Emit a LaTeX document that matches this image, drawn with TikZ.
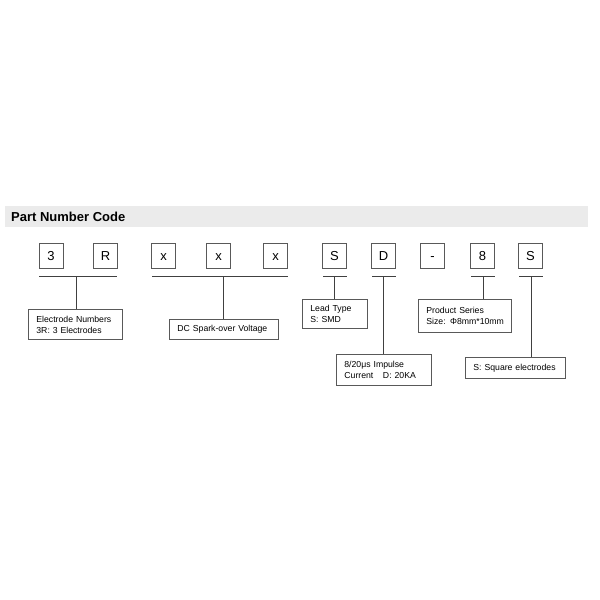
\documentclass[tikz,border=0pt]{standalone}
\usepackage{fontspec}
\setmainfont{Liberation Sans}
\begin{document}
\begin{tikzpicture}[x=1pt,y=-1pt,
  codebox/.style={draw=gray!70!black, line width=0.8pt, minimum width=24pt, minimum height=25pt, inner sep=0pt, text height=9.3pt, text depth=0pt, font=\fontsize{13}{15}\selectfont},
  labelbox/.style={draw=gray!70!black, line width=0.8pt, anchor=north west, align=left, inner xsep=8pt, inner ysep=0pt, font=\fontsize{8.7}{11}\selectfont},
  bar/.style={draw=black!75, line width=0.9pt}]
\useasboundingbox (0,0) rectangle (600,600);
% header band
\fill[black!8] (5,206) rectangle (588,227);
\node [right, inner sep=0pt, font=\bfseries\fontsize{13}{15}\selectfont] (title) at (11,217) {Part Number Code};
% code letters
\node [codebox] (c1) at (51,255.5) {3};
\node [codebox] (c2) at (105.5,255.5) {R};
\node [codebox] (c3) at (163.5,255.5) {x};
\node [codebox] (c4) at (218.5,255.5) {x};
\node [codebox] (c5) at (275.5,255.5) {x};
\node [codebox] (c6) at (334.5,255.5) {S};
\node [codebox] (c7) at (383.5,255.5) {D};
\node [codebox] (c8) at (432.5,255.5) {-};
\node [codebox] (c9) at (482.5,255.5) {8};
\node [codebox] (c10) at (530.5,255.5) {S};
% bars under the letters
\coordinate (b1l) at (39,276);  \coordinate (b1r) at (117,276); \coordinate (b1m) at (76,276);
\coordinate (b2l) at (152,276); \coordinate (b2r) at (288,276); \coordinate (b2m) at (223,276);
\coordinate (b3l) at (323,276); \coordinate (b3r) at (347,276); \coordinate (b3m) at (334.5,276);
\coordinate (b4l) at (372,276); \coordinate (b4r) at (396,276); \coordinate (b4m) at (383.5,276);
\coordinate (b5l) at (471,276); \coordinate (b5r) at (495,276); \coordinate (b5m) at (483,276);
\coordinate (b6l) at (519,276); \coordinate (b6r) at (543,276); \coordinate (b6m) at (531,276);
% explanation boxes
\node [labelbox, text width=78pt, minimum height=30pt] (e1) at (28,309) {Electrode Numbers\\3R: 3 Electrodes};
\node [labelbox, text width=93pt, minimum height=20pt] (e2) at (169,319) {DC Spark-over Voltage};
\node [labelbox, text width=49pt, minimum height=29pt] (e3) at (302,299) {Lead Type\\S: SMD};
\node [labelbox, text width=79pt, minimum height=31pt] (e4) at (336,354) {8/20μs Impulse\\Current\hspace{1.1em}D: 20KA};
\node [labelbox, text width=77pt, minimum height=33pt] (e5) at (418,299) {Product Series\\\mbox{Size: Φ8mm*10mm}};
\node [labelbox, text width=84pt, minimum height=21pt] (e6) at (465,357) {S: Square electrodes};
% connectors
\draw [bar] (b1l) -- (b1r) (b1m) -- (b1m |- e1.north);
\draw [bar] (b2l) -- (b2r) (b2m) -- (b2m |- e2.north);
\draw [bar] (b3l) -- (b3r) (b3m) -- (b3m |- e3.north);
\draw [bar] (b4l) -- (b4r) (b4m) -- (b4m |- e4.north);
\draw [bar] (b5l) -- (b5r) (b5m) -- (b5m |- e5.north);
\draw [bar] (b6l) -- (b6r) (b6m) -- (b6m |- e6.north);
\end{tikzpicture}
\end{document}
